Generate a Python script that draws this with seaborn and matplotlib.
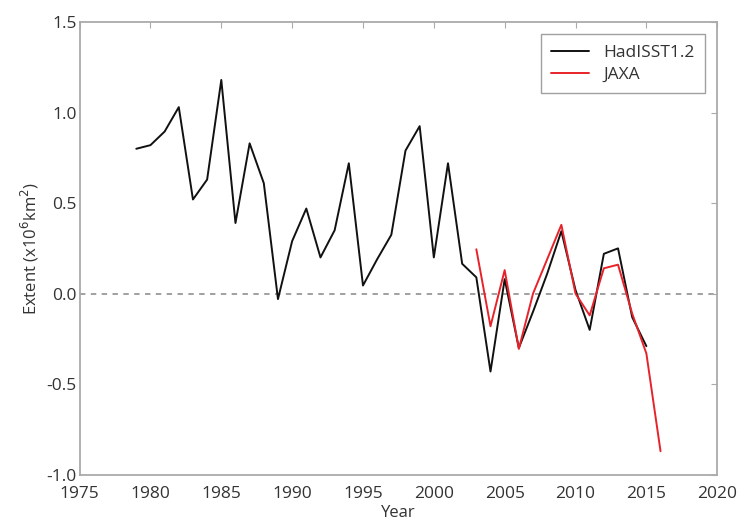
import numpy as np
import pandas as pd
import matplotlib
matplotlib.use('Agg')
import matplotlib.pyplot as plt
import seaborn as sns

# HadISST1.2 anomalies
had_years = list(range(1979, 2016))
had_vals = [0.80, 0.82, 0.895, 1.03, 0.52, 0.63, 1.18, 0.39, 0.83, 0.61,
            -0.03, 0.29, 0.47, 0.20, 0.35, 0.72, 0.045, 0.19, 0.325, 0.79,
            0.925, 0.20, 0.72, 0.165, 0.09, -0.43, 0.08, -0.30, -0.10, 0.11,
            0.345, 0.02, -0.20, 0.22, 0.25, -0.13, -0.29]

# JAXA anomalies
jaxa_years = list(range(2003, 2017))
jaxa_vals = [0.245, -0.18, 0.13, -0.305, 0.0, 0.19, 0.38, 0.0, -0.12, 0.14,
             0.16, -0.11, -0.33, -0.87]

df = pd.concat([
    pd.DataFrame({'Year': had_years, 'Extent': had_vals, 'Source': 'HadISST1.2'}),
    pd.DataFrame({'Year': jaxa_years, 'Extent': jaxa_vals, 'Source': 'JAXA'}),
])

sns.set_style('white')
plt.rcParams['font.family'] = ['Open Sans', 'DejaVu Sans']

fig = plt.figure(figsize=(7.51, 5.24), dpi=100)
ax = fig.add_axes([0.106, 0.094, 0.849, 0.864])

sns.lineplot(data=df, x='Year', y='Extent', hue='Source',
             palette={'HadISST1.2': '#111111', 'JAXA': '#e8222a'},
             linewidth=1.4, ax=ax)
ax.axhline(0, color='#999999', linestyle=(0, (3, 3)), linewidth=1.3, zorder=0)

ax.set_xlim(1975, 2020)
ax.set_ylim(-1.0, 1.5)
ax.set_xticks(np.arange(1975, 2021, 5))
ax.set_yticks(np.arange(-1.0, 1.51, 0.5))
ax.set_yticklabels(['-1.0', '-0.5', '0.0', '0.5', '1.0', '1.5'])
ax.tick_params(direction='in', top=True, right=True, length=4,
               color='#aaaaaa', labelsize=12.5, labelcolor='#333333')
ax.tick_params(axis='x', pad=8)
ax.tick_params(axis='y', pad=2)
for s in ax.spines.values():
    s.set_color('#aaaaaa')
    s.set_linewidth(1.3)

ax.set_xlabel('Year', fontsize=12, color='#333333', labelpad=2)
ax.set_ylabel('Extent (x10$^6$km$^2$)', fontsize=12, color='#333333', labelpad=4)

leg = ax.legend(loc='upper right', fontsize=12.5, frameon=True, fancybox=False,
                borderaxespad=0.7, handlelength=2.2, borderpad=0.6,
                labelspacing=0.35)
leg.get_frame().set_edgecolor('#888888')
leg.get_frame().set_linewidth(1.0)
for t in leg.get_texts():
    t.set_color('#333333')

fig.savefig('out.png', dpi=100)
